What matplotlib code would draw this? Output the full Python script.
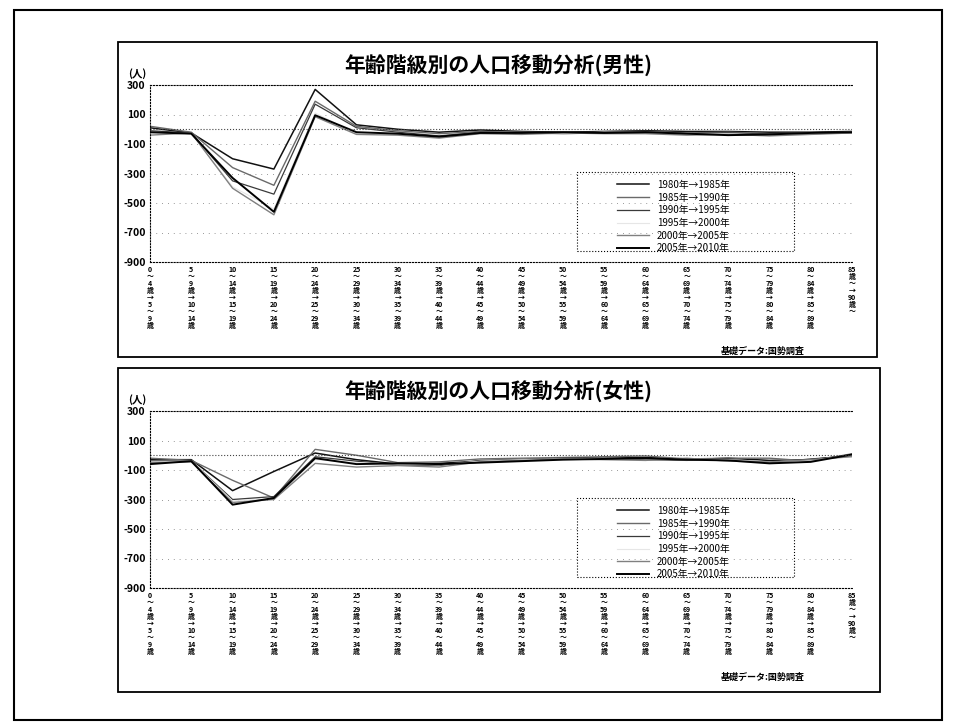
import matplotlib
matplotlib.use('Agg')
import matplotlib.pyplot as plt
from matplotlib.patches import Rectangle

plt.rcParams['font.family'] = ['Noto Sans CJK JP', 'DejaVu Sans']

W, H = 954, 727

# age-group transitions (x axis)
ages = [('0', '4', '5', '9'), ('5', '9', '10', '14'), ('10', '14', '15', '19'),
        ('15', '19', '20', '24'), ('20', '24', '25', '29'), ('25', '29', '30', '34'),
        ('30', '34', '35', '39'), ('35', '39', '40', '44'), ('40', '44', '45', '49'),
        ('45', '49', '50', '54'), ('50', '54', '55', '59'), ('55', '59', '60', '64'),
        ('60', '64', '65', '69'), ('65', '69', '70', '74'), ('70', '74', '75', '79'),
        ('75', '79', '80', '84'), ('80', '84', '85', '89')]
last_label = ['85', '歳', '～', '→', '90', '歳', '～']

periods = ['1980年→1985年', '1985年→1990年', '1990年→1995年',
           '1995年→2000年', '2000年→2005年', '2005年→2010年']

yticks = [300, 100, -100, -300, -500, -700, -900]

# male (人)
m_1980 = [10, -25, -200, -270, 270, 30, 0, -20, -5, -15, -20, -15, -10, -15, -15, -20, -20, -15]
m_1985 = [20, -20, -260, -380, 190, 20, -10, -30, -15, -20, -25, -20, -15, -25, -20, -30, -25, -20]
m_1990 = [-10, -25, -350, -440, 170, 10, -20, -45, -20, -25, -30, -25, -20, -30, -25, -35, -30, -25]
m_1995 = [-30, -30, -390, -540, 110, -30, -35, -55, -25, -30, -30, -20, -25, -35, -30, -40, -30, -20]
m_2000 = [-40, -25, -400, -580, 85, -35, -40, -60, -30, -35, -25, -30, -30, -40, -35, -45, -35, -25]
m_2005 = [-20, -30, -330, -560, 95, -20, -30, -50, -25, -25, -20, -25, -20, -30, -40, -35, -25, -20]

# female (人)
f_1980 = [-30, -30, -240, -110, 15, -30, -60, -55, -40, -30, -25, -20, -15, -30, -20, -35, -30, 0]
f_1985 = [-20, -35, -170, -290, 40, 0, -50, -45, -25, -20, -15, -10, -5, -25, -20, -20, -40, 10]
f_1990 = [-40, -40, -300, -280, -10, -40, -65, -70, -35, -30, -20, -15, -30, -35, -25, -50, -25, -5]
f_1995 = [-45, -40, -310, -295, -30, -50, -60, -65, -40, -30, -25, -20, -25, -30, -30, -45, -35, 0]
f_2000 = [-50, -45, -320, -300, -55, -80, -70, -80, -45, -35, -25, -30, -35, -20, -40, -45, -30, -10]
f_2005 = [-60, -40, -335, -290, -20, -60, -55, -60, -50, -40, -30, -25, -20, -30, -35, -55, -45, 5]

male = [m_1980, m_1985, m_1990, m_1995, m_2000, m_2005]
female = [f_1980, f_1985, f_1990, f_1995, f_2000, f_2005]

styles = [dict(color='#111111', lw=1.1), dict(color='#6a6a6a', lw=1.0),
          dict(color='#3a3a3a', lw=0.9), dict(color='#e6e6e6', lw=0.8),
          dict(color='#808080', lw=1.0), dict(color='#000000', lw=1.4)]


def stacked(a):
    return '\n'.join([a[0], '～', a[1], '歳', '→', a[2], '～', a[3], '歳'])


xlabels = [stacked(a) for a in ages] + ['\n'.join(last_label)]


def px(x0, y0, x1, y1):
    return [x0 / W, 1 - y1 / H, (x1 - x0) / W, (y1 - y0) / H]


fig = plt.figure(figsize=(W / 100, H / 100), dpi=100)
fig.patches.append(Rectangle((14 / W, 1 - 720 / H), 928 / W, 710 / H, transform=fig.transFigure,
                             fill=False, ec='black', lw=1.5))


def chart(top, bottom, right, data, title):
    fig.patches.append(Rectangle((118 / W, 1 - bottom / H), (right - 118) / W, (bottom - top) / H,
                                 transform=fig.transFigure, fill=False, ec='black', lw=1.3))
    ax = fig.add_axes(px(150, top + 43, 852, top + 220))
    x = list(range(len(xlabels)))
    for vals, lab, st in zip(data, periods, styles):
        ax.plot(x, vals, label=lab, **st)
    ax.set_xlim(0, len(xlabels) - 1)
    ax.set_ylim(-900, 300)
    ax.set_yticks(yticks)
    ax.set_yticklabels([str(v) for v in yticks], fontsize=7.5, fontweight='bold')
    ax.set_xticks(x)
    ax.set_xticklabels(xlabels, fontsize=5, linespacing=1.0, fontweight='bold')
    ax.tick_params(length=0, pad=3)
    for s in ax.spines.values():
        s.set_linestyle(':')
        s.set_linewidth(0.8)
    ax.spines['right'].set_visible(False)
    ax.grid(axis='y', ls=(0, (1, 6)), color='#777777', lw=0.6)
    ax.axhline(0, color='#444444', ls=':', lw=0.8)
    fig.text(498 / W, 1 - (top + 24) / H, title, ha='center', va='center',
             fontsize=15, fontweight='bold')
    fig.text(137 / W, 1 - (top + 32) / H, '(人)', ha='center', va='center', fontsize=7.5,
             fontweight='bold')
    fig.text(805 / W, 1 - (top + 309) / H, '基礎データ:国勢調査', ha='right', va='center',
             fontsize=6.5, fontweight='bold')
    fig.patches.append(Rectangle((577 / W, 1 - (top + 209) / H), 217 / W, 79 / H,
                                 transform=fig.transFigure, fill=False, ec='black',
                                 lw=0.8, ls=':'))
    ax.legend(loc='upper left', bbox_to_anchor=(612 / W, 1 - (top + 133) / H),
              bbox_transform=fig.transFigure, frameon=False, fontsize=7,
              handlelength=3.3, labelspacing=0.28, borderpad=0, handletextpad=0.8)
    return ax


chart(42, 357, 877, male, '年齢階級別の人口移動分析(男性)')
chart(368, 692, 880, female, '年齢階級別の人口移動分析(女性)')

fig.savefig('out.png', dpi=100)
